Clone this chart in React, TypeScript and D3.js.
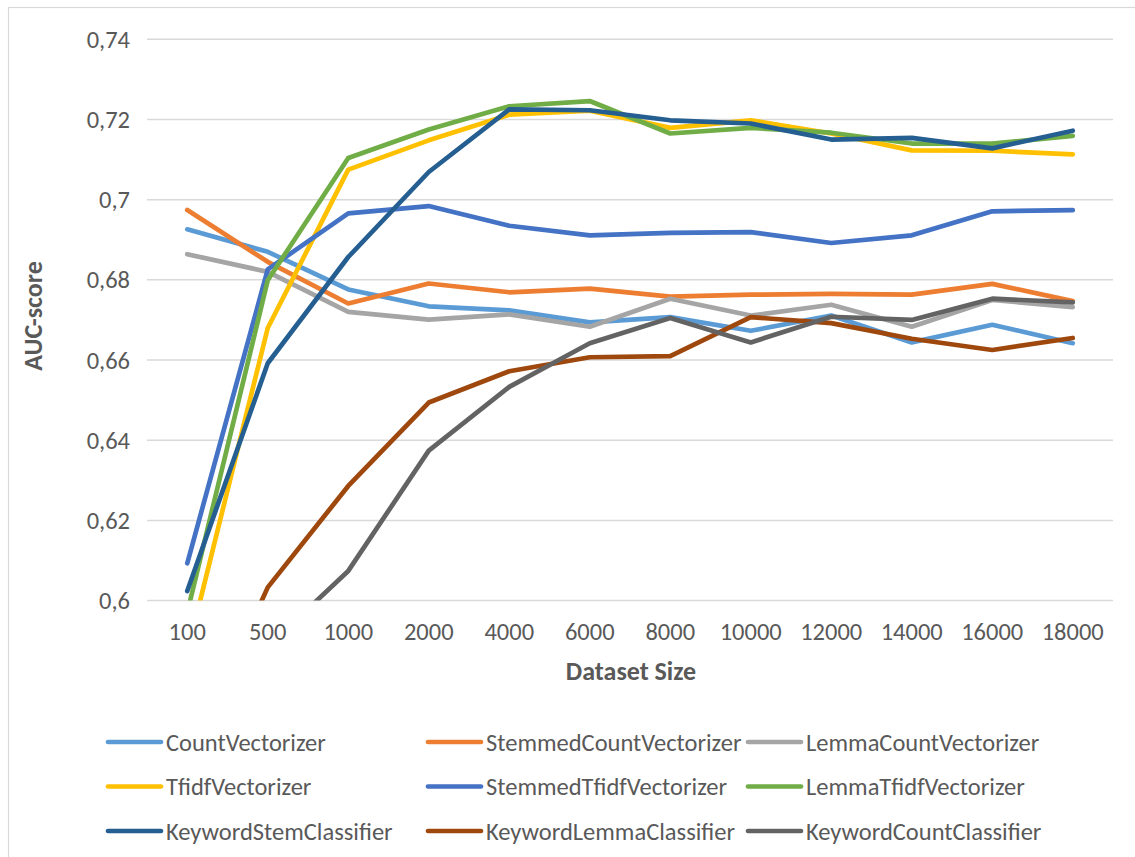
import React from "react";
import * as d3 from "d3";

// Dataset sizes on the category axis
const categories = ["100", "500", "1000", "2000", "4000", "6000", "8000", "10000", "12000", "14000", "16000", "18000"];

// AUC scores per model
const countVectorizer = [0.6926, 0.687, 0.6776, 0.6734, 0.6724, 0.6694, 0.6707, 0.6673, 0.6711, 0.6644, 0.6688, 0.6642];
const stemmedCountVectorizer = [0.6974, 0.6845, 0.6741, 0.6791, 0.6769, 0.6778, 0.6758, 0.6763, 0.6765, 0.6763, 0.679, 0.6747];
const lemmaCountVectorizer = [0.6864, 0.682, 0.672, 0.6701, 0.6714, 0.6683, 0.6753, 0.6711, 0.6738, 0.6683, 0.675, 0.6732];
const tfidfVectorizer = [0.587, 0.668, 0.7075, 0.7148, 0.7212, 0.7222, 0.7179, 0.7198, 0.7165, 0.7123, 0.7122, 0.7113];
const stemmedTfidfVectorizer = [0.6093, 0.6826, 0.6966, 0.6984, 0.6935, 0.6911, 0.6917, 0.6919, 0.6892, 0.6911, 0.6971, 0.6974];
const lemmaTfidfVectorizer = [0.597, 0.6799, 0.7104, 0.7175, 0.7233, 0.7246, 0.7165, 0.7179, 0.7167, 0.714, 0.714, 0.7159];
const keywordStemClassifier = [0.6024, 0.6592, 0.6857, 0.7069, 0.7225, 0.7223, 0.7198, 0.719, 0.715, 0.7154, 0.7128, 0.7172];
const keywordLemmaClassifier = [0.559, 0.6033, 0.6286, 0.6494, 0.6572, 0.6607, 0.661, 0.6707, 0.6692, 0.6653, 0.6625, 0.6655];
const keywordCountClassifier = [0.575, 0.5885, 0.6074, 0.6374, 0.6533, 0.6642, 0.6705, 0.6644, 0.6708, 0.67, 0.6753, 0.6744];

const yTicks = [0.6, 0.62, 0.64, 0.66, 0.68, 0.7, 0.72, 0.74];

const seriesNames = [
  "CountVectorizer",
  "StemmedCountVectorizer",
  "LemmaCountVectorizer",
  "TfidfVectorizer",
  "StemmedTfidfVectorizer",
  "LemmaTfidfVectorizer",
  "KeywordStemClassifier",
  "KeywordLemmaClassifier",
  "KeywordCountClassifier",
];
const seriesValues = [
  countVectorizer,
  stemmedCountVectorizer,
  lemmaCountVectorizer,
  tfidfVectorizer,
  stemmedTfidfVectorizer,
  lemmaTfidfVectorizer,
  keywordStemClassifier,
  keywordLemmaClassifier,
  keywordCountClassifier,
];
const seriesColors = ["#5B9BD5", "#ED7D31", "#A5A5A5", "#FFC000", "#4472C4", "#70AD47", "#255E91", "#9E480E", "#636363"];

const W = 1135;
const H = 857;
const plot = { left: 147, right: 1113, top: 39.3, bottom: 600.6 };
const FONT = "Carlito, Calibri, 'Liberation Sans', Arial, sans-serif";
const TEXT = "#595959";

export default function App() {
  const x = d3.scalePoint<string>().domain(categories).range([plot.left, plot.right]).padding(0.5);
  const y = d3.scaleLinear().domain([0.6, 0.74]).range([plot.bottom, plot.top]);
  const line = d3
    .line<number>()
    .x((_, i) => x(categories[i]) as number)
    .y((d) => y(d));

  const legendCols = [108, 428, 748];
  const legendRows = [742, 786.5, 831];

  return (
    <svg
      width={W}
      height={H}
      style={{ position: "absolute", left: 0, top: 0, background: "#fff" }}
      fontFamily={FONT}
    >
      <defs>
        <clipPath id="plot-clip">
          <rect x={plot.left} y={plot.top - 10} width={plot.right - plot.left} height={plot.bottom - plot.top + 10} />
        </clipPath>
      </defs>
      <rect x={8.5} y={7.5} width={W + 50} height={H + 50} fill="#fff" stroke="#D9D9D9" strokeWidth={1.2} />

      {/* horizontal gridlines and value labels */}
      {yTicks.map((t) => (
        <g key={t}>
          <line x1={plot.left} x2={plot.right} y1={y(t)} y2={y(t)} stroke="#D9D9D9" strokeWidth={1.5} />
          <text x={130} y={y(t)} dy="0.35em" textAnchor="end" fontSize={24.5} fill={TEXT}>
            {d3.format(".2~f")(t).replace(".", ",")}
          </text>
        </g>
      ))}

      {/* category labels */}
      {categories.map((c) => (
        <text key={c} x={x(c)} y={631} dy="0.35em" textAnchor="middle" fontSize={24.5} fill={TEXT}>
          {c}
        </text>
      ))}

      {/* series lines */}
      <g clipPath="url(#plot-clip)">
        {seriesValues.map((vals, i) => (
          <path
            key={seriesNames[i]}
            d={line(vals) || ""}
            fill="none"
            stroke={seriesColors[i]}
            strokeWidth={4.7}
            strokeLinejoin="round"
            strokeLinecap="round"
          />
        ))}
      </g>

      {/* axis titles */}
      <text x={631} y={671} dy="0.35em" textAnchor="middle" fontSize={26} fontWeight="bold" fill={TEXT}>
        Dataset Size
      </text>
      <text
        transform={`translate(33,316) rotate(-90)`}
        dy="0.35em"
        textAnchor="middle"
        fontSize={26}
        fontWeight="bold"
        fill={TEXT}
      >
        AUC-score
      </text>

      {/* legend */}
      {seriesNames.map((name, i) => {
        const lx = legendCols[i % 3];
        const ly = legendRows[Math.floor(i / 3)];
        return (
          <g key={name}>
            <line x1={lx} x2={lx + 53} y1={ly} y2={ly} stroke={seriesColors[i]} strokeWidth={4.7} strokeLinecap="round" />
            <text x={lx + 58} y={ly} dy="0.35em" fontSize={24.5} fill={TEXT}>
              {name}
            </text>
          </g>
        );
      })}
    </svg>
  );
}
